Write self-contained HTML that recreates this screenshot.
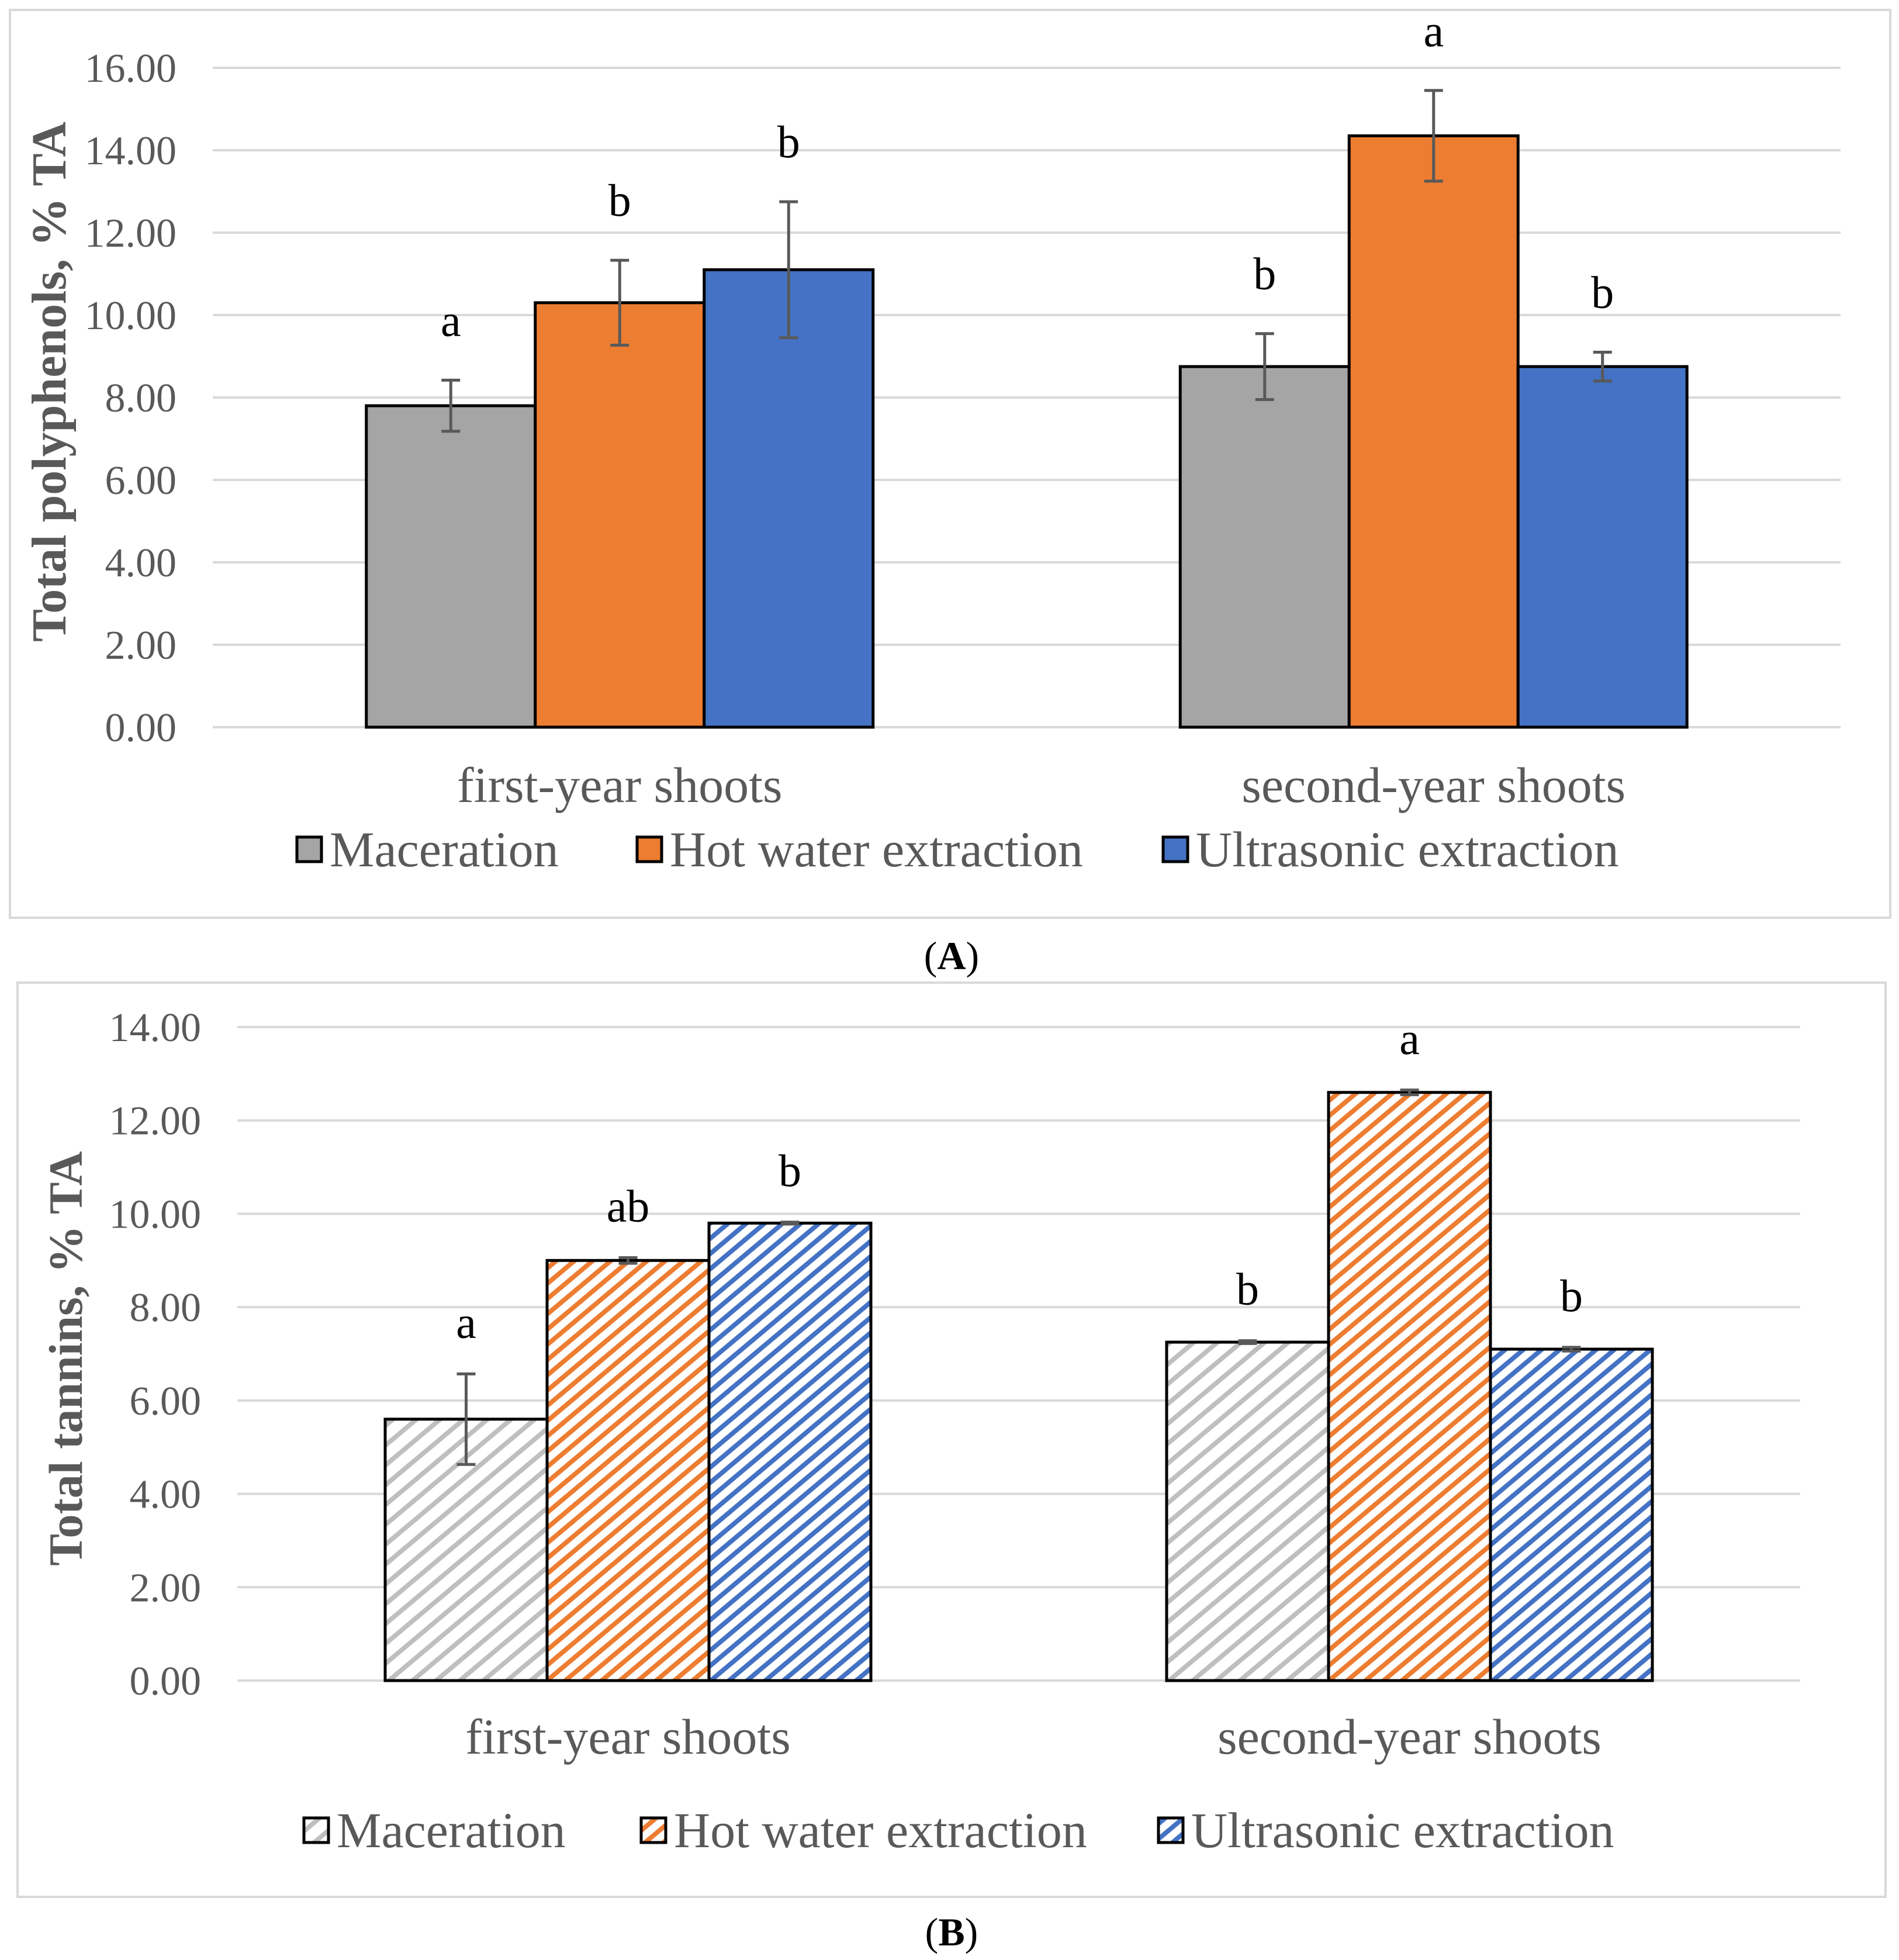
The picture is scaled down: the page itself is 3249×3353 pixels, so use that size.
<!DOCTYPE html>
<html><head><meta charset="utf-8"><style>
html,body{margin:0;padding:0;background:#fff;}
svg{display:block;font-family:"Liberation Serif",serif;}
</style></head><body>
<svg id="c" width="3249" height="3353" viewBox="0 0 3249 3353" xmlns="http://www.w3.org/2000/svg">
<defs>
<pattern id="hg" patternUnits="userSpaceOnUse" width="26" height="26" patternTransform="rotate(-40)"><rect width="26" height="26" fill="#fff"/><rect y="0" width="26" height="8" fill="#bfbfbf"/></pattern>
<pattern id="ho" patternUnits="userSpaceOnUse" width="20" height="20" patternTransform="rotate(-40)"><rect width="20" height="20" fill="#fff"/><rect y="0" width="20" height="8" fill="#ed7d31"/></pattern>
<pattern id="hb" patternUnits="userSpaceOnUse" width="20" height="20" patternTransform="rotate(-40)"><rect width="20" height="20" fill="#fff"/><rect y="0" width="20" height="8" fill="#4472c4"/></pattern>
</defs>
<rect x="17" y="17" width="3217" height="1553" fill="#fff" stroke="#d9d9d9" stroke-width="4"/>
<rect x="30" y="1681" width="3196" height="1564" fill="#fff" stroke="#d9d9d9" stroke-width="4"/>
<text x="1628" y="1658" font-size="68" text-anchor="middle">(<tspan font-weight="bold">A</tspan>)</text>
<text x="1628" y="3328" font-size="68" text-anchor="middle">(<tspan font-weight="bold">B</tspan>)</text>
<g id="ga"></g><g id="gb"></g>
</svg>
<script>
const categories = ["first-year shoots", "second-year shoots"];
const seriesNames = ["Maceration", "Hot water extraction", "Ultrasonic extraction"];
const aTicks = ["0.00","2.00","4.00","6.00","8.00","10.00","12.00","14.00","16.00"];
const aMaceration = [7.8, 8.75];
const aHotWater = [10.3, 14.35];
const aUltrasonic = [11.1, 8.75];
const aMacerationErr = [0.62, 0.8];
const aHotWaterErr = [1.03, 1.1];
const aUltrasonicErr = [1.65, 0.35];
const aLetters = [["a","b"],["b","a"],["b","b"]];
const bTicks = ["0.00","2.00","4.00","6.00","8.00","10.00","12.00","14.00"];
const bMaceration = [5.6, 7.25];
const bHotWater = [9.0, 12.6];
const bUltrasonic = [9.8, 7.1];
const bMacerationErr = [0.97, 0.03];
const bHotWaterErr = [0.06, 0.05];
const bUltrasonicErr = [0.02, 0.04];
const bLetters = [["a","b"],["ab","a"],["b","b"]];

const NS = "http://www.w3.org/2000/svg";
function mk(parent, tag, attrs, text){
  const e = document.createElementNS(NS, tag);
  for (const k in attrs) e.setAttribute(k, attrs[k]);
  if (text !== undefined) e.textContent = text;
  parent.appendChild(e);
  return e;
}
function drawChart(g, cfg){
  const yMax = parseFloat(cfg.ticks[cfg.ticks.length-1]);
  const y = v => cfg.y0 - (v / yMax) * (cfg.y0 - cfg.yTop);
  const catW = (cfg.x1 - cfg.x0) / cfg.cats.length;
  const xc = i => cfg.x0 + catW * (i + 0.5);
  cfg.ticks.forEach(t => {
    const v = parseFloat(t);
    const gl = mk(g, "line", {x1: cfg.x0, x2: cfg.x1, y1: y(v), y2: y(v), stroke: "#d9d9d9", "stroke-width": 4});
    
    
    const tl = mk(g, "text", {x: cfg.tickX, y: y(v) + 24, "font-size": 70, fill: "#595959", "text-anchor": "end"}, t);
    
    
  });
  const yt = mk(g, "text", {x: 0, y: 0, "font-size": cfg.titleSize, "font-weight": "bold", fill: "#595959", "text-anchor": "middle", transform: `translate(${cfg.titleX},${cfg.titleY}) rotate(-90)`}, cfg.title);
  
  
  const bw = cfg.barW;
  cfg.series.forEach((s, si) => {
    s.forEach((v, ci) => {
      const bx = xc(ci) - 1.5 * bw + si * bw;
      const r = mk(g, "rect", {x: bx, y: y(v), width: bw, height: y(0) - y(v), fill: cfg.fills[si], stroke: "#000", "stroke-width": 5});
      
      
      const e = cfg.errs[si][ci];
      const cx = bx + bw / 2;
      const eg = mk(g, "path", {d: `M${cx},${y(v+e)}V${y(v-e)}M${cx-16},${y(v+e)}H${cx+16}M${cx-16},${y(v-e)}H${cx+16}`, stroke: "#595959", "stroke-width": 5, fill: "none"});
      
      
      const lt = mk(g, "text", {x: cx, y: y(v + e) - cfg.letterGap, "font-size": 78, "text-anchor": "middle"}, cfg.letters[si][ci]);
      
      
    });
  });
  cfg.cats.forEach((c, i) => {
    const cl = mk(g, "text", {x: xc(i), y: cfg.catY, "font-size": 86, fill: "#595959", "text-anchor": "middle"}, c);
    
    
  });
  seriesNames.forEach((n, i) => {
    const lb = mk(g, "rect", {x: cfg.legX[i], y: cfg.legY - 50, width: 42, height: 42, fill: cfg.fills[i], stroke: "#000", "stroke-width": 5});
    
    
    const lt = mk(g, "text", {x: cfg.legX[i] + 56, y: cfg.legY, "font-size": 86, fill: "#595959"}, n);
    
    
  });
}
drawChart(document.getElementById("ga"), {
  ticks: aTicks, cats: categories, x0: 364, x1: 3149, y0: 1244, yTop: 116, barW: 289, tickX: 302,
  series: [aMaceration, aHotWater, aUltrasonic], errs: [aMacerationErr, aHotWaterErr, aUltrasonicErr],
  letters: aLetters, letterGap: 76, fills: ["#a5a5a5", "#ed7d31", "#4472c4"],
  title: "Total polyphenols, % TA", titleX: 112, titleY: 653, titleSize: 84,
  catY: 1372, legY: 1482, legX: [508, 1090, 1990]
});
drawChart(document.getElementById("gb"), {
  ticks: bTicks, cats: categories, x0: 406, x1: 3080, y0: 2875, yTop: 1757, barW: 277, tickX: 344,
  series: [bMaceration, bHotWater, bUltrasonic], errs: [bMacerationErr, bHotWaterErr, bUltrasonicErr],
  letters: bLetters, letterGap: 62, fills: ["url(#hg)", "url(#ho)", "url(#hb)"],
  title: "Total tannins, % TA", titleX: 140, titleY: 2324, titleSize: 82,
  catY: 3000, legY: 3160, legX: [520, 1097, 1982]
});
</script>
</body></html>
